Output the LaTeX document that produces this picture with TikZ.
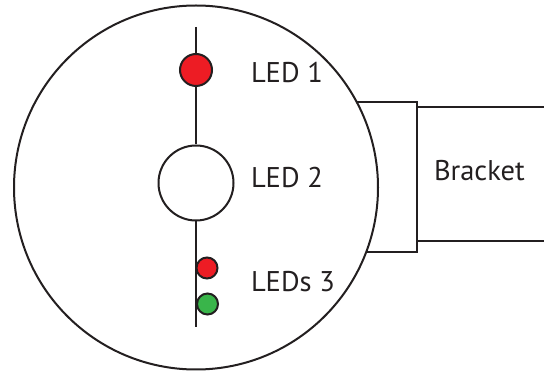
\documentclass[tikz,border=0pt]{standalone}
\usepackage{fontspec}
\setmainfont{PT Sans}
\definecolor{ink}{HTML}{231F20}
\definecolor{ledred}{HTML}{ED1C24}
\definecolor{ledgreen}{HTML}{39B54A}
\tikzset{
  led/.style={circle, draw=ink, inner sep=0pt},
  tag/.style={anchor=base west, inner sep=0pt, text=ink, font=\fontsize{28.5}{30}\selectfont}
}
\begin{document}
\begin{tikzpicture}[x=1pt, y=-1pt, line width=2pt, color=ink]
    \useasboundingbox (0,0) rectangle (544,371);
    % bracket, partly hidden by the housing
    \draw (330,101.7) rectangle (417,252);
    \draw (417,106.7) -- (546,106.7) (417,240.7) -- (546,240.7);
    \filldraw[fill=white] (196,187.5) circle (182);
    \node[tag] (brk) at (433,181) {Bracket};
    % leds on the axis
    \coordinate (top) at (196,27);
    \coordinate (bottom) at (196,327);
    \node[led, fill=ledred, minimum size=32pt] (led1) at (196,70) {};
    \node[led, fill=white, minimum size=75pt] (led2) at (196,183) {};
    \draw (top) -- (led1) -- (led2) -- (bottom);
    \node[led, fill=ledred, minimum size=21pt] (led3r) at (207,268) {};
    \node[led, fill=ledgreen, minimum size=21pt] (led3g) at (207.5,304) {};
    \node[tag] (lbl1) at (250,83) {LED 1};
    \node[tag] (lbl2) at (250,188) {LED 2};
    \node[tag] (lbl3) at (250,292) {LEDs 3};
\end{tikzpicture}
\end{document}
